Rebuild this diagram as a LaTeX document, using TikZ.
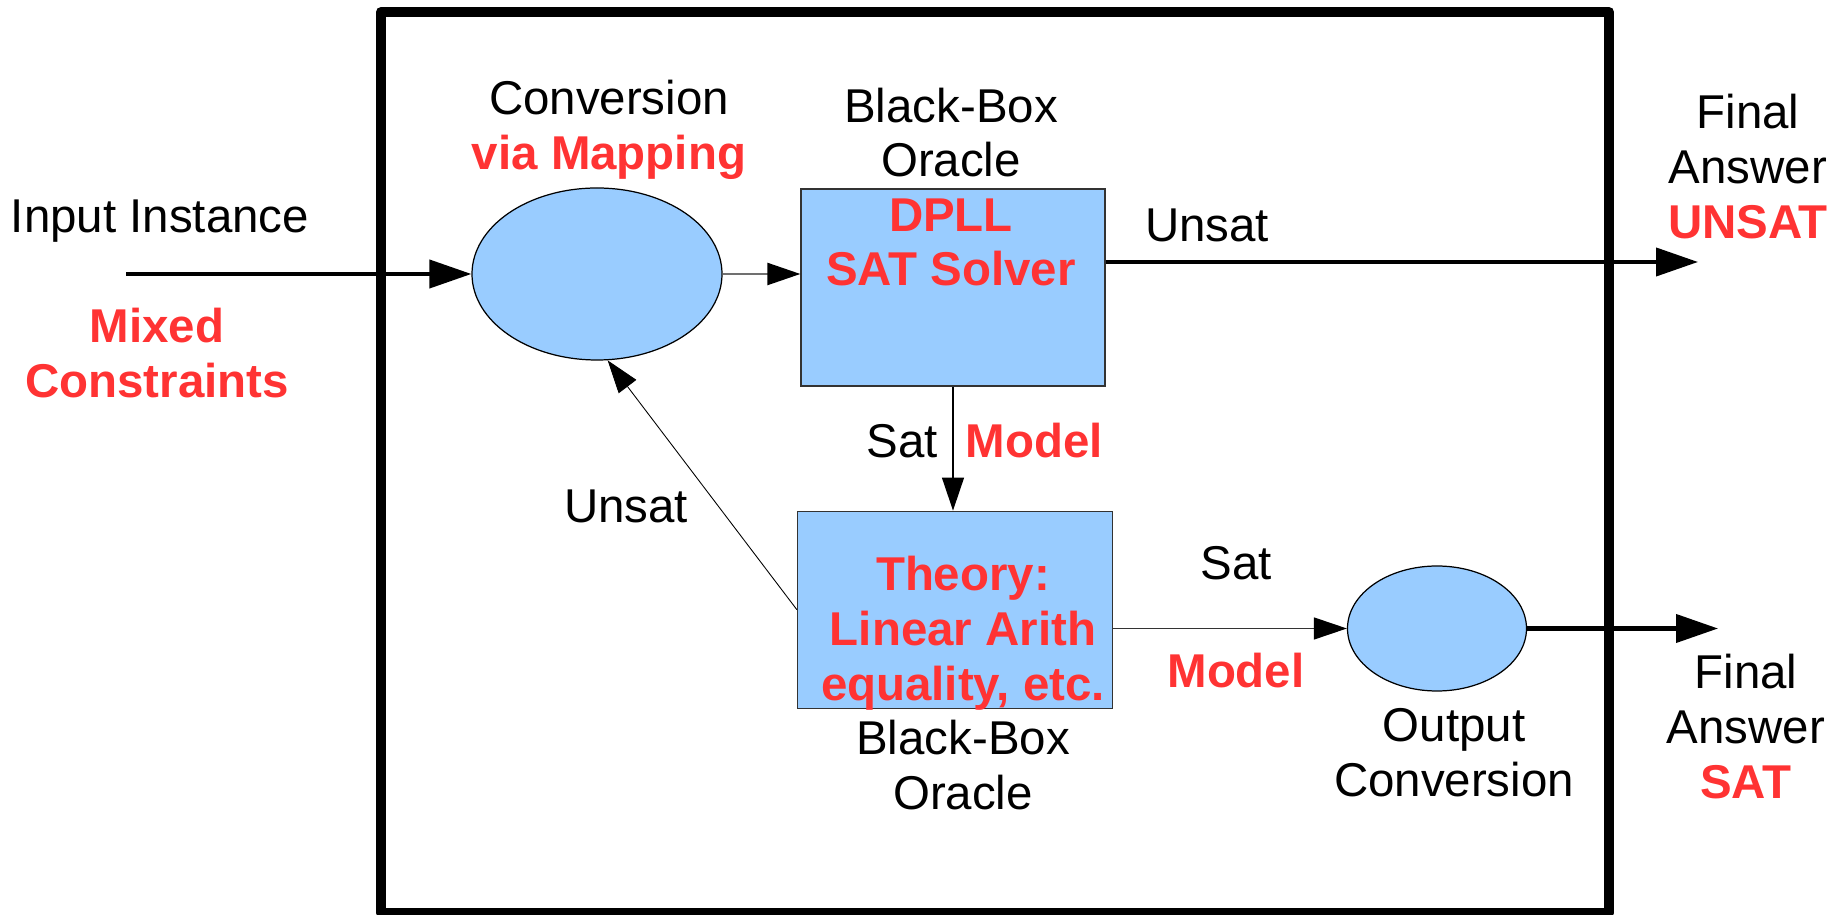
\documentclass[tikz,border=0pt]{standalone}
\usepackage{fontspec}
\setmainfont{Liberation Sans}
\usetikzlibrary{arrows.meta,shapes.geometric,positioning}
\definecolor{satRed}{HTML}{FF3333}
\definecolor{satBlue}{HTML}{99CCFF}
\definecolor{satEdge}{HTML}{333333}
\definecolor{satGray}{HTML}{707070}
\newcommand{\satFont}{\fontsize{13.5}{15.6}\selectfont}
\newcommand{\satLineW}{1.15pt}
\newcommand{\satLineWthin}{0.35pt}
\newcommand{\satFrameW}{2.85pt}
\tikzset{
  oracle/.style={draw=satEdge, fill=satBlue, line width=\satLineWthin,
    inner sep=0pt, minimum height=1.97cm},
  converter/.style={ellipse, draw=black, fill=satBlue, line width=\satLineWthin,
    inner sep=0pt},
  plain/.style={inner sep=0pt, align=center, black, font=\satFont},
  hot/.style={inner sep=0pt, align=center, satRed, font=\satFont\bfseries},
  bigtip/.style={-{Triangle[length=4.2mm,width=2.8mm]}, line width=\satLineW},
  smalltip/.style={-{Triangle[length=3.3mm,width=2.2mm,color=black]},
    line width=\satLineWthin},
}

\begin{document}
\begin{tikzpicture}[font=\satFont, line cap=butt]
  \useasboundingbox (0,0) rectangle (18.41,9.15);

  % ===== Outer frame =====
  \draw[line width=\satFrameW, line join=round] (3.81,9.03) rectangle (16.09,0.02);

  % ===== Converters and oracles =====
  \node[converter, minimum width=2.5cm, minimum height=1.72cm] (conv) at (5.97,6.41) {};
  \node[oracle, minimum width=3.04cm] (dpll) at (9.53,6.275) {};
  \node[oracle, minimum width=3.15cm] (theory) at (9.55,3.053) {};
  \node[converter, minimum width=1.79cm, minimum height=1.25cm] (outconv) at (14.37,2.865) {};

  % free ends of the outer arrows
  \coordinate (input) at (1.26,6.41);
  \coordinate (unsatout) at (16.98,6.53);
  \coordinate (satout) at (17.18,2.865);

  % ===== Labels =====
  \node[plain, anchor=base] (inputLbl) at (1.60,6.82) {Input Instance};
  \node[hot] (mixedLbl) at (1.57,5.62) {Mixed\\Constraints};
  \node[plain] (convLbl) at (6.09,7.85)
    {Conversion\\{\bfseries\color{satRed}via Mapping}};
  \node[plain] (dpllTop) at (9.51,7.825) {Black-Box\\Oracle};
  \node[hot] (dpllTxt) at (9.51,6.725) {DPLL\\SAT Solver};
  \node[plain, anchor=base] (unsatTop) at (12.07,6.73) {Unsat};
  \node[plain] (finalUnsat) at (17.48,7.485)
    {Final\\Answer\\{\bfseries\color{satRed}UNSAT}};
  \node[plain, anchor=base] (satMid) at (9.025,4.57) {Sat};
  \node[hot, anchor=base] (modelMid) at (10.345,4.57) {Model};
  \node[plain, anchor=base] (unsatBack) at (6.26,3.92) {Unsat};
  \node[hot] (theoryTxt) at (9.63,2.815) {Theory:\\Linear Arith\\equality, etc.};
  \node[plain] (theoryBot) at (9.63,1.50) {Black-Box\\Oracle};
  \node[plain, anchor=base] (satLow) at (12.365,3.35) {Sat};
  \node[hot, anchor=base] (modelLow) at (12.36,2.27) {Model};
  \node[plain] (outLbl) at (14.54,1.62) {Output\\Conversion};
  \node[plain] (finalSat) at (17.46,1.885)
    {Final\\Answer\\{\bfseries\color{satRed}SAT}};

  % ===== Connectors =====
  \draw[bigtip] (input) -- (conv.west);
  \draw[smalltip, satGray, line width=0.65pt] (conv.east) -- (conv.east -| dpll.west);
  \draw[bigtip] (dpll.east |- unsatout) -- (unsatout);
  \draw[smalltip] (dpll.south) -- (dpll.south |- theory.north);
  \draw[smalltip, satEdge] (theory.east |- outconv.west) -- (outconv.west);
  \draw[bigtip] (outconv.east) -- (satout);
  \draw[smalltip, line width=0.25pt] (theory.west) -- (conv.-83);
\end{tikzpicture}
\end{document}
